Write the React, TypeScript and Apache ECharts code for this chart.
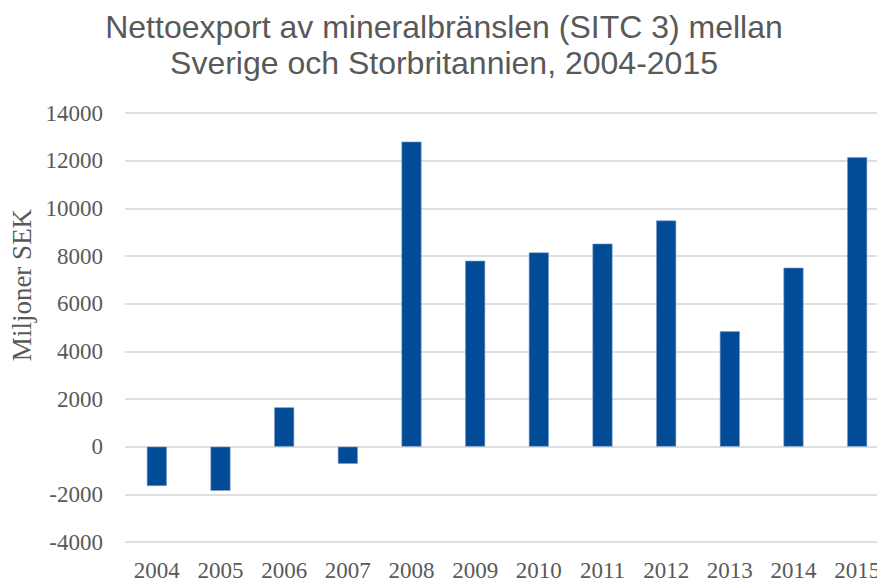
import React, { useEffect, useRef } from "react";
import * as echarts from "echarts";

const years = ["2004", "2005", "2006", "2007", "2008", "2009", "2010", "2011", "2012", "2013", "2014", "2015"];
const netExport = [-1650, -1850, 1650, -720, 12800, 7800, 8150, 8520, 9490, 4840, 7510, 12150];
const titleLines = ["Nettoexport av mineralbränslen (SITC 3) mellan", "Sverige och Storbritannien, 2004-2015"];
const yAxisName = "Miljoner SEK";

export default function App() {
  const ref = useRef<HTMLDivElement>(null);
  useEffect(() => {
    if (!ref.current) return;
    const chart = echarts.init(ref.current, null, { renderer: "svg" });
    chart.setOption({
      animation: false,
      backgroundColor: "#ffffff",
      graphic: [
        {
          type: "text",
          x: 444,
          y: 9,
          style: {
            text: titleLines.join("\n"),
            fontFamily: "Liberation Sans, Arial, sans-serif",
            fontSize: 32,
            lineHeight: 36,
            fill: "#595959",
            textAlign: "center",
            textVerticalAlign: "top",
          },
        },
        {
          type: "text",
          x: 22,
          y: 285,
          rotation: Math.PI / 2,
          style: {
            text: yAxisName,
            fontFamily: "Liberation Serif, Times New Roman, serif",
            fontSize: 27,
            fill: "#595959",
            textAlign: "center",
            textVerticalAlign: "middle",
          },
        },
      ],
      grid: { left: 125, right: 11, top: 113, bottom: 37 },
      xAxis: {
        type: "category",
        data: years,
        axisLine: { show: false, onZero: false },
        axisTick: { show: false },
        axisLabel: {
          margin: 17,
          fontFamily: "Liberation Serif, Times New Roman, serif",
          fontSize: 23,
          color: "#595959",
        },
      },
      yAxis: {
        type: "value",
        min: -4000,
        max: 14000,
        interval: 2000,
        axisLine: { show: false },
        axisTick: { show: false },
        splitLine: { lineStyle: { color: "#d4d4d4", width: 1.5 } },
        axisLabel: {
          margin: 22,
          formatter: (v: number) => String(v),
          fontFamily: "Liberation Serif, Times New Roman, serif",
          fontSize: 23,
          color: "#595959",
        },
      },
      series: [
        {
          type: "bar",
          data: netExport,
          barWidth: 20,
          itemStyle: { color: "#024b96", borderColor: "#7f9fc9", borderWidth: 0.6 },
        },
      ],
    });
    return () => chart.dispose();
  }, []);
  return (
    <div style={{ position: "absolute", left: 0, top: 0, width: 877, height: 582, overflow: "hidden" }}>
      <div ref={ref} style={{ width: 900, height: 582 }} />
    </div>
  );
}
